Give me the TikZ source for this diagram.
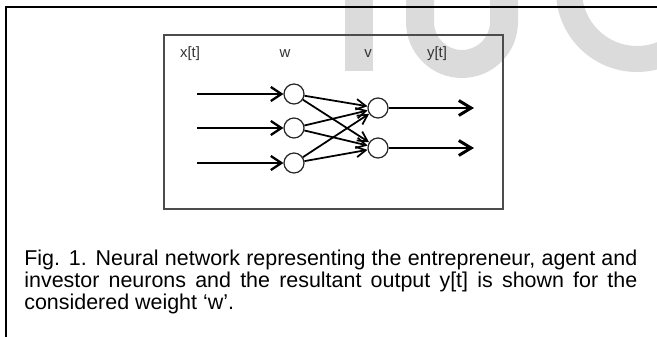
\documentclass[tikz,border=0pt]{standalone}
\usepackage{fontspec}
\setmainfont{Liberation Sans}
\usetikzlibrary{arrows.meta, positioning}
\definecolor{markGray}{gray}{0.86}
\definecolor{boxGray}{gray}{0.3}

\begin{document}
\begin{tikzpicture}[x=0.2mm, y=-0.2mm,
    neuron/.style={circle, draw=black!85, line width=0.7pt, minimum size=4mm, inner sep=0pt},
    inarrow/.style={line width=1.3pt, -{Straight Barb[length=6pt, width=8pt]}},
    outarrow/.style={line width=1.7pt, -{Straight Barb[length=7pt, width=8.5pt]}},
    link/.style={line width=1pt, -{Straight Barb[length=5.5pt, width=6pt]}},
    lbl/.style={font=\fontsize{8.5}{10}\selectfont, text=black!80, inner sep=0pt}]
    \useasboundingbox (0,0) rectangle (657,337);

    % Watermark letters
    \begin{scope}
        \clip (0,0) rectangle (657,337);
        \fill[markGray] (345,0) rectangle (373,71);
        \fill[markGray] (406,0) -- (406,22) arc[start angle=180, end angle=0, radius=56]
            -- (518,0) -- (490,0) -- (490,22) arc[start angle=0, end angle=180, radius=28]
            -- (434,0) -- cycle;
        \fill[markGray, even odd rule] (637,-9) circle[radius=81] (637,-9) circle[radius=55];
    \end{scope}

    % Frames
    \draw[line width=1.1pt] (6,337) -- (6,7) -- (657,7);
    \draw[boxGray, line width=1pt] (164,35) rectangle (503,209);

    % Column labels
    \node[lbl] (lblX) at (190,54) {x[t]};
    \node[lbl] (lblW) at (285,54) {w};
    \node[lbl] (lblV) at (368,54) {v};
    \node[lbl] (lblY) at (437,54) {y[t]};

    % Neurons
    \node[neuron] (w1) at (294,94) {};
    \node[neuron] (w2) at (294,128) {};
    \node[neuron] (w3) at (294,163) {};
    \node[neuron] (v1) at (378,108) {};
    \node[neuron] (v2) at (378,148) {};

    % Inputs and outputs
    \coordinate (x1) at (197,94);
    \coordinate (x2) at (197,128);
    \coordinate (x3) at (197,163);
    \coordinate (y1) at (474,108);
    \coordinate (y2) at (474,148);
    \foreach \i in {1,2,3}
        \draw[inarrow] (x\i) -- (w\i);
    \foreach \j in {1,2}
        \draw[outarrow] (v\j) -- (y\j);

    % Weights
    \foreach \i in {1,2,3}
        \foreach \j in {1,2}
            \draw[link] (w\i) -- (v\j);

    % Caption
    \node[anchor=base west, text width=122.6mm, inner sep=0pt, align=justify,
        font=\fontsize{12.2}{12.5}\selectfont] (caption) at (24,266)
        {Fig. 1. Neural network representing the entrepreneur, agent and\linebreak
        investor neurons and the resultant output y[t] is shown for the\linebreak
        considered weight ‘w’.};
\end{tikzpicture}
\end{document}
